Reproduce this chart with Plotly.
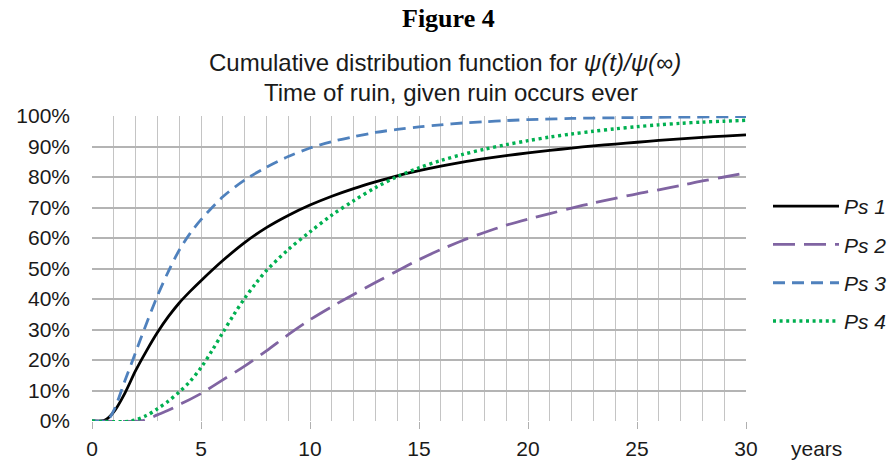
import plotly.graph_objects as go

# ---- data ----
t_ps1 = [0, 0.6, 1, 1.5, 2, 2.5, 3, 3.5, 4, 4.5, 5, 6, 7, 8, 9, 10, 11, 12, 13, 14, 15, 16, 17, 18, 19, 20, 21, 22, 23, 24, 25, 26, 27, 28, 29, 30]
ps1 = [0, 0.3, 3, 9, 16.5, 23, 29, 34.2, 38.7, 42.5, 46, 52.6, 58.5, 63.4, 67.4, 70.8, 73.7, 76.2, 78.4, 80.4, 82.1, 83.6, 84.9, 86, 87, 87.9, 88.7, 89.5, 90.2, 90.8, 91.4, 92, 92.5, 93, 93.4, 93.8]

t_ps2 = [0, 2.2, 2.5, 3, 3.5, 4, 5, 6, 7, 8, 9, 10, 11, 12, 13, 14, 15, 16, 17, 18, 19, 20, 21, 22, 23, 24, 25, 26, 27, 28, 29, 30]
ps2 = [0, 0, 0.5, 2, 3.5, 5.3, 9, 13.5, 18, 23, 28.3, 33.2, 37.5, 41.5, 45.4, 49.2, 52.9, 56.2, 59.2, 61.8, 64.2, 66.2, 68, 69.8, 71.5, 73, 74.5, 75.8, 77.2, 78.7, 80, 81.3]

t_ps3 = [0, 0.7, 1, 1.5, 2, 2.5, 3, 3.5, 4, 4.5, 5, 6, 7, 8, 9, 10, 11, 12, 13, 14, 15, 16, 17, 18, 19, 20, 22, 25, 30]
ps3 = [0, 0.3, 3.5, 13, 22.5, 32, 41, 49, 56, 61.5, 66, 73.5, 79, 83.2, 86.7, 89.5, 91.6, 93.2, 94.6, 95.6, 96.4, 97.1, 97.7, 98.1, 98.5, 98.8, 99.2, 99.5, 99.8]

t_ps4 = [0, 1.8, 2.5, 3, 3.5, 4, 4.5, 5, 5.5, 6, 6.5, 7, 7.5, 8, 9, 10, 11, 12, 13, 14, 15, 16, 17, 18, 19, 20, 21, 22, 23, 24, 25, 26, 27, 28, 29, 30]
ps4 = [0, 0, 1.8, 4, 6.5, 9.5, 13, 17.5, 23, 29, 34.8, 40.2, 45, 49.3, 56.2, 62, 67.5, 72.2, 76.5, 80.1, 83, 85.4, 87.4, 89.1, 90.6, 91.9, 93.1, 94.1, 95, 95.8, 96.5, 97.1, 97.6, 98, 98.3, 98.6]

series_names = ["Ps 1", "Ps 2", "Ps 3", "Ps 4"]
y_ticks = [0, 10, 20, 30, 40, 50, 60, 70, 80, 90, 100]
y_tick_labels = [f"{v}%" for v in y_ticks]
title_line1 = "Cumulative distribution function for <i>ψ(t)/ψ(∞)</i>"
title_line2 = "Time of ruin, given ruin occurs ever"

FONT = "Liberation Sans, Arial, sans-serif"
TXT = "#1a1a1a"

fig = go.Figure()
styles = [
    dict(color="#000000", width=2.8, dash="solid"),
    dict(color="#8064A2", width=2.8, dash="22px,9px"),
    dict(color="#4F81BD", width=2.8, dash="12px,7px"),
    dict(color="#00B050", width=3.4, dash="3px,3.6px"),
]
for i, (name, tx, ty, st) in enumerate(zip(series_names, [t_ps1, t_ps2, t_ps3, t_ps4], [ps1, ps2, ps3, ps4], styles)):
    fig.add_trace(go.Scatter(x=tx, y=ty, mode="lines", name=name, legendgroup=f"g{i}",
                             line=dict(shape="spline", smoothing=0.9, **st)))

PL, PR, PT, PB = 92, 746, 116, 421
W, H = 895, 462
pw, ph = PR - PL, PB - PT

def px_x(x):
    return (x - PL) / pw

def px_y(y):
    return (PB - y) / ph

fig.update_layout(
    width=W, height=H,
    margin=dict(l=PL, r=W - PR, t=PT, b=H - PB, autoexpand=False),
    paper_bgcolor="white", plot_bgcolor="white",
    font=dict(family=FONT, size=21, color=TXT),
    showlegend=True,
    legend=dict(
        x=px_x(768), xanchor="left", y=px_y(186), yanchor="top",
        font=dict(family=FONT, size=21, color=TXT, style="italic"),
        bgcolor="rgba(0,0,0,0)", itemwidth=66, tracegroupgap=8, traceorder="grouped",
    ),
    xaxis=dict(
        range=[0, 30], tick0=0, dtick=5, ticks="outside", ticklen=7, tickcolor="#b0b0b0", tickwidth=1.3,
        showgrid=True, gridcolor="#c4c4c4", gridwidth=1.3,
        minor=dict(tick0=0, dtick=1, showgrid=True, gridcolor="#c4c4c4", gridwidth=1.3, ticks=""),
        showline=False, zeroline=False, tickfont=dict(size=21), ticklabelstandoff=2, automargin=False,
    ),
    yaxis=dict(
        range=[0, 100], tickvals=y_ticks, ticktext=y_tick_labels,
        showgrid=True, gridcolor="#b4b4b4", gridwidth=1.5, zeroline=False, showline=False,
        tickfont=dict(size=21), ticks="", ticklabelstandoff=21, automargin=False,
    ),
    annotations=[
        dict(text="<b>Figure 4</b>", xref="paper", yref="paper", x=px_x(449), y=px_y(18),
             xanchor="center", yanchor="middle", showarrow=False,
             font=dict(family="Liberation Serif, Times New Roman, serif", size=26, color="#000")),
        dict(text=title_line1, xref="paper", yref="paper", x=px_x(445), y=px_y(63),
             xanchor="center", yanchor="middle", showarrow=False,
             font=dict(family=FONT, size=24, color=TXT)),
        dict(text=title_line2, xref="paper", yref="paper", x=px_x(451), y=px_y(92),
             xanchor="center", yanchor="middle", showarrow=False,
             font=dict(family=FONT, size=24, color=TXT)),
        dict(text="years", xref="paper", yref="paper", x=px_x(816), y=px_y(448),
             xanchor="center", yanchor="middle", showarrow=False,
             font=dict(family=FONT, size=21, color=TXT)),
    ],
)

fig.write_html(
    "out.html",
    config={"displayModeBar": False},
    post_script="document.body.style.margin='0';document.body.style.overflow='hidden';",
)
